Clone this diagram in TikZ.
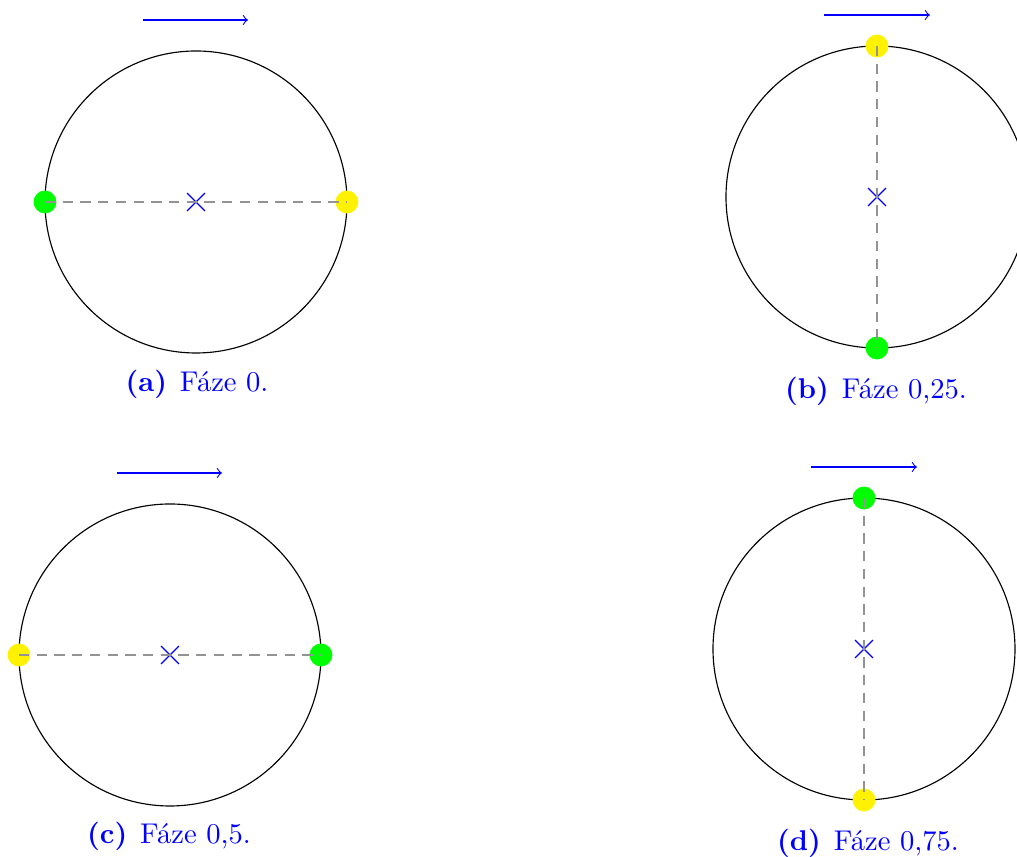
\documentclass[tikz,border=0pt]{standalone}
\usetikzlibrary{shapes.misc}
\tikzset{
    gdot/.style={circle,fill=green,inner sep=0pt,minimum size=8pt},
    ydot/.style={circle,fill=yellow,inner sep=0pt,minimum size=8pt},
    mid/.style={cross out,draw=blue,inner sep=0pt,minimum size=5.8pt,line width=0.45pt},
    axisline/.style={gray!85,dash pattern=on 3.6pt off 2.6pt},
    motion/.style={->,blue},
    subcap/.style={blue,anchor=base,inner sep=0pt}
}
\begin{document}
\begin{tikzpicture}[x=0.35pt,y=-0.35pt]
        \def\rad{151}
        \useasboundingbox (0,0) rectangle (1017,857);

        % (a) phase 0
        \node[mid] (ac) at (196,202) {};
        \draw (ac) circle[radius=\rad];
        \node[gdot] (ag) at (45,202) {};
        \node[ydot] (ay) at (347,202) {};
        \draw[axisline] (ag.center) -- (ay.center);
        \coordinate (al) at (143,20);
        \coordinate (ar) at (248,20);
        \draw[motion] (al) -- (ar);
        \node[subcap] (acap) at (197,392) {\textbf{(a)}\hspace{4.5pt}Fáze 0.};

        % (b) phase 0.25
        \node[mid] (bc) at (877,197) {};
        \draw (bc) circle[radius=\rad];
        \node[ydot] (by) at (877,46) {};
        \node[gdot] (bg) at (877,348) {};
        \draw[axisline] (by.center) -- (bg.center);
        \coordinate (bl) at (824,15);
        \coordinate (br) at (930,15);
        \draw[motion] (bl) -- (br);
        \node[subcap] (bcap) at (876,399) {\textbf{(b)}\hspace{4.5pt}Fáze 0,25.};

        % (c) phase 0.5
        \node[mid] (cc) at (170,655) {};
        \draw (cc) circle[radius=\rad];
        \node[ydot] (cy) at (19,655) {};
        \node[gdot] (cg) at (321,655) {};
        \draw[axisline] (cy.center) -- (cg.center);
        \coordinate (cl) at (117,473);
        \coordinate (cr) at (222,473);
        \draw[motion] (cl) -- (cr);
        \node[subcap] (ccap) at (169,844) {\textbf{(c)}\hspace{4.5pt}Fáze 0,5.};

        % (d) phase 0.75
        \node[mid] (dc) at (864,649) {};
        \draw (dc) circle[radius=\rad];
        \node[gdot] (dg) at (864,498) {};
        \node[ydot] (dy) at (864,800) {};
        \draw[axisline] (dg.center) -- (dy.center);
        \coordinate (dl) at (811,467);
        \coordinate (dr) at (917,467);
        \draw[motion] (dl) -- (dr);
        \node[subcap] (dcap) at (868,851) {\textbf{(d)}\hspace{4.5pt}Fáze 0,75.};
    \end{tikzpicture}
\end{document}
